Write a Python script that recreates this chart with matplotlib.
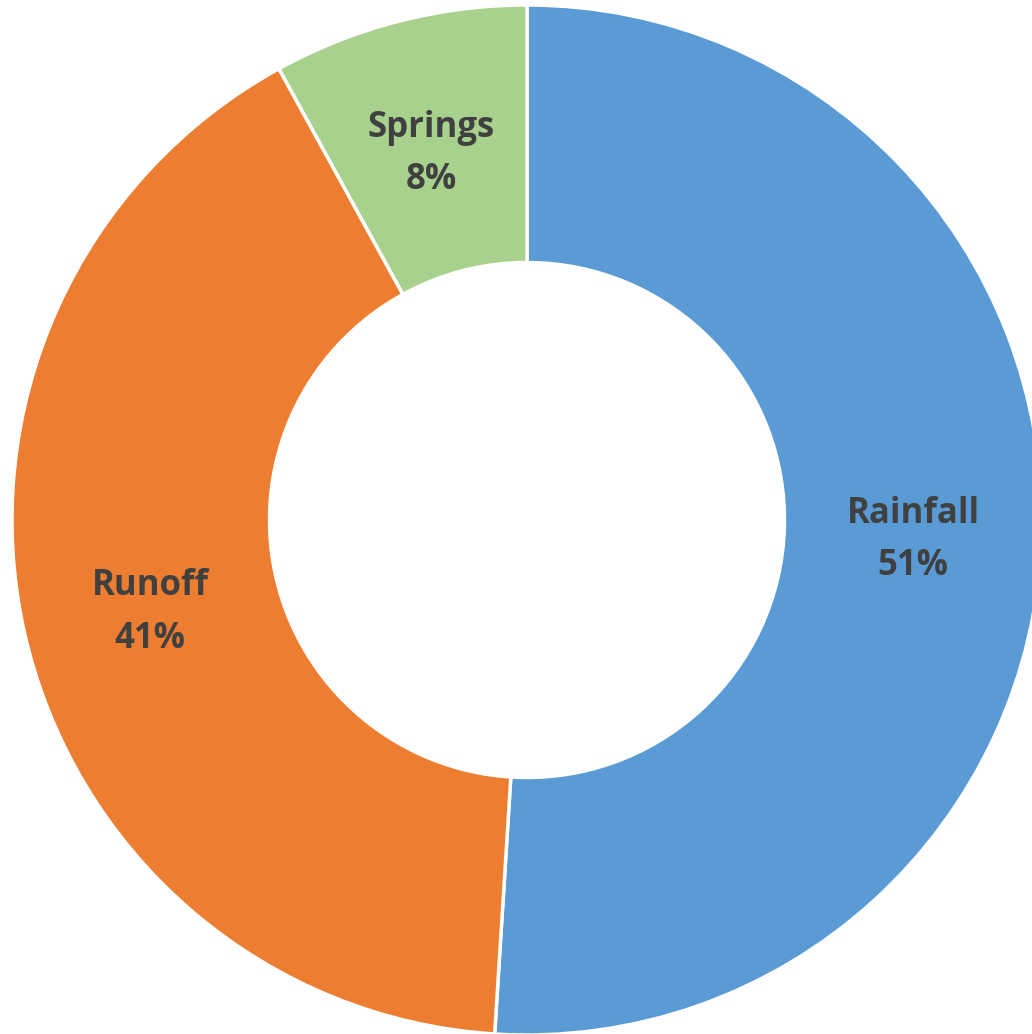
import matplotlib.pyplot as plt

sources = ['Rainfall', 'Runoff', 'Springs']
shares = [51, 41, 8]
colors = ['#5B9BD5', '#ED7D31', '#A9D18E']

fig = plt.figure(figsize=(10.32, 10.34), dpi=100)
ax = fig.add_axes([0, 0, 1, 1])

wedges, texts, autotexts = ax.pie(
    shares, colors=colors, startangle=90, counterclock=False,
    radius=1.0, wedgeprops=dict(width=0.5, edgecolor='white', linewidth=2.5),
    autopct=lambda p: '', pctdistance=0.75,
)
for name, val, t in zip(sources, shares, autotexts):
    t.set_text(f'{name}\n{val}%')
    t.set_fontsize(25)
    t.set_fontweight('bold')
    t.set_color('#404040')
    t.set_fontfamily('Open Sans')
    t.set_linespacing(1.6)
    x, y = t.get_position()
    t.set_position((x, y - 0.016))

# center at pixel (527, 520), radius 515 px
scale = 515
ax.set_xlim(-527 / scale, (1032 - 527) / scale)
ax.set_ylim(-(1034 - 520) / scale, 520 / scale)
ax.set_aspect('equal')
ax.axis('off')

fig.savefig('out.png', dpi=100)
